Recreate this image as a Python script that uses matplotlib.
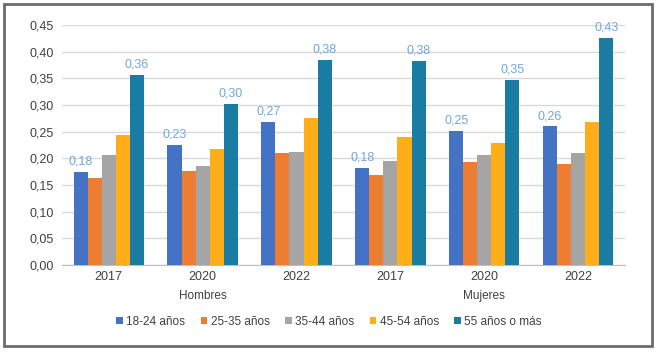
import matplotlib
matplotlib.use("Agg")
import matplotlib.pyplot as plt
import numpy as np
from matplotlib.patches import Rectangle

plt.rcParams['font.family'] = ["Liberation Sans", "DejaVu Sans"]

years = ["2017", "2020", "2022", "2017", "2020", "2022"]
sexes = ["Hombres", "Mujeres"]
series_names = ["18-24 años", "25-35 años", "35-44 años", "45-54 años", "55 años o más"]
v_18_24 = [0.175, 0.225, 0.268, 0.182, 0.251, 0.260]
v_25_35 = [0.163, 0.176, 0.210, 0.169, 0.193, 0.189]
v_35_44 = [0.206, 0.186, 0.212, 0.195, 0.206, 0.210]
v_45_54 = [0.244, 0.218, 0.276, 0.240, 0.229, 0.268]
v_55 = [0.356, 0.302, 0.384, 0.383, 0.347, 0.426]
labels_18_24 = ["0,18", "0,23", "0,27", "0,18", "0,25", "0,26"]
labels_55 = ["0,36", "0,30", "0,38", "0,38", "0,35", "0,43"]
yticks = [0.00, 0.05, 0.10, 0.15, 0.20, 0.25, 0.30, 0.35, 0.40, 0.45]

colors = ["#4472C4", "#ED7D31", "#A5A5A5", "#FFAE1A", "#1A7BA3"]
lab_color = "#6FA8DC"

fig = plt.figure(figsize=(6.58, 3.55), dpi=100)
fig.patches.append(Rectangle((0.006, 0.025), 0.985, 0.963, transform=fig.transFigure,
                             fill=False, edgecolor="#6b6b6b", linewidth=2.0))
ax = fig.add_axes([0.094, 0.2535, 0.856, 0.676])

x = np.arange(len(years))
w = 0.15
data = [v_18_24, v_25_35, v_35_44, v_45_54, v_55]
for i, (vals, c, n) in enumerate(zip(data, colors, series_names)):
    ax.bar(x + (i - 2) * w, vals, width=w, color=c, label=n, zorder=3)

for xi, v, l in zip(x, v_18_24, labels_18_24):
    ax.text(xi - 2 * w, v + 0.008, l, ha="center", va="bottom", color=lab_color, fontsize=9, clip_on=False)
for xi, v, l in zip(x, v_55, labels_55):
    ax.text(xi + 2 * w, v + 0.008, l, ha="center", va="bottom", color=lab_color, fontsize=9, clip_on=False)

ax.set_xlim(-0.5, len(years) - 0.5)
ax.set_ylim(0, 0.45)
ax.set_yticks(yticks)
ax.set_yticklabels([f"{t:.2f}".replace(".", ",") for t in yticks], fontsize=9, color="#404040")
ax.set_xticks(x)
ax.set_xticklabels(years, fontsize=9, color="#404040")
ax.tick_params(axis="y", length=0, pad=6)
ax.tick_params(axis="x", length=0, pad=4)
ax.grid(axis="y", color="#d9d9d9", linewidth=1, zorder=0)
for s in ["top", "right", "left"]:
    ax.spines[s].set_visible(False)
ax.spines["bottom"].set_color("#bfbfbf")

for k, s in enumerate(sexes):
    ax.text(1 + 3 * k, -0.105, s, transform=ax.get_xaxis_transform(), ha="center", va="top",
            fontsize=8.5, color="#404040")

leg = fig.legend(loc="center", bbox_to_anchor=(0.5, 0.094), ncol=5, frameon=False, fontsize=8.5,
                 handlelength=0.55, handleheight=0.55, handletextpad=0.3, columnspacing=1.3,
                 labelcolor="#404040")

fig.savefig("out.png", dpi=100)
